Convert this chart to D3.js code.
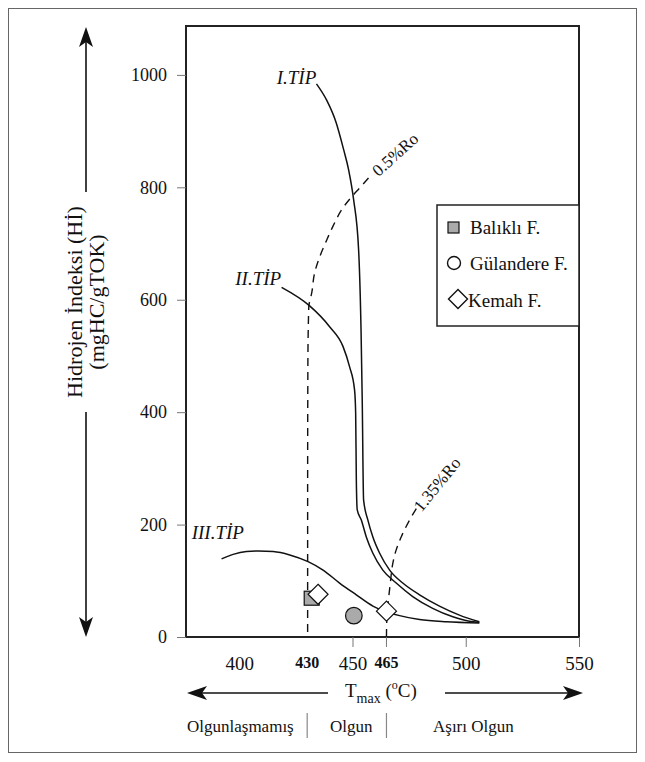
<!DOCTYPE html>
<html>
<head>
<meta charset="utf-8">
<script src="https://cdn.jsdelivr.net/npm/d3@7"></script>
<style>
  body { margin: 0; background: #fff; }
  svg, svg text { font-family: "Liberation Serif", "Times New Roman", Tinos, "DejaVu Serif", serif; }
</style>
</head>
<body>
<svg id="chart" width="645" height="762" font-family="Liberation Serif"></svg>
<script>
// ===== DATA (Tmax in °C, HI in mgHC/gTOK) =====
const tTicks = [400, 450, 500, 550];
const tBoldTicks = [430, 465];
const hiTicks = [0, 200, 400, 600, 800, 1000];

const typeI = [[434.1,984],[438.6,955],[442.8,915],[446.1,867],[448.3,831],[450.5,778],[452.7,689],
  [453.8,541],[454.3,422],[454.9,244],[456.8,208],[459.0,178],[462.0,149],[466.4,119],[472.2,96],
  [479.6,75],[488.4,55],[497.2,39],[506.0,27]];
const typeII = [[418.7,622],[431.1,589],[439.9,552],[445.8,517],[448.7,481],[450.9,440],[451.4,399],
  [451.7,279],[452.1,226],[453.9,208],[456.1,178],[459.0,149],[463.4,119],[469.3,96],[476.6,72],
  [485.4,51],[494.3,36],[501.6,28],[506.0,26]];
const typeIII = [[392.2,139],[397.3,147],[403.2,152],[408.4,153],[415.0,152],[422.3,146],[430.4,134],
  [437.0,119],[444.3,96],[451.7,75],[459.0,55],[464.9,45],[470.8,38],[479.6,31],[491.3,27],[506.0,25]];
const ro05 = [[430.2,9],[430.2,244],[430.3,480],[430.7,587],[432.0,612],[433.3,648],[435.5,676],
  [438.6,706],[441.3,730],[445.7,763],[449.6,783],[453.2,799],[457.6,819]];
const ro135 = [[465.0,0],[465.1,25],[466.7,96],[467.8,131],[469.3,155],[471.5,178],[475.2,208],[479.6,238]];

const balikli = [[432.0,69]];
const gulandere = [[450.6,38]];
const kemah = [[434.8,76],[465.0,46]];

const legendNames = ["Balıklı F.", "Gülandere F.", "Kemah F."];
const maturity = ["Olgunlaşmamış", "Olgun", "Aşırı Olgun"];

// ===== SETUP =====
const FONT = "Liberation Serif";
const svg = d3.select("#chart");
const plot = {left:186, right:579, top:26, bottom:637};
const x = d3.scaleLinear().domain([376.5, 550]).range([plot.left, plot.right]);
const y = d3.scaleLinear().domain([0, 1087]).range([plot.bottom, plot.top]);

// outer border
svg.append("rect").attr("x",8.5).attr("y",8.5).attr("width",628).attr("height",744)
  .attr("fill","none").attr("stroke","#666").attr("stroke-width",1);

// plot frame
svg.append("rect").attr("x",plot.left).attr("y",plot.top)
  .attr("width",plot.right-plot.left).attr("height",plot.bottom-plot.top)
  .attr("fill","#fff").attr("stroke","#222").attr("stroke-width",2);

// ===== AXES =====
const yAxis = svg.append("g").attr("transform",`translate(${plot.left},0)`)
  .call(d3.axisLeft(y).tickValues(hiTicks).tickFormat(d3.format("d")).tickSize(9).tickPadding(10))
  .attr("font-family",FONT);
yAxis.select(".domain").remove();
yAxis.selectAll("line").attr("stroke","#777");
yAxis.selectAll("text").attr("font-size",18).attr("fill","#111");

const xAxis = svg.append("g").attr("transform",`translate(0,${plot.bottom})`)
  .call(d3.axisBottom(x).tickValues(tTicks).tickSize(10).tickPadding(10))
  .attr("font-family",FONT);
xAxis.select(".domain").remove();
xAxis.selectAll("line").attr("stroke","#777").attr("display",d=>d===400?"none":null);
xAxis.selectAll("text").attr("font-size",19).attr("fill","#111");

svg.append("g").selectAll("text").data(tBoldTicks).join("text")
  .attr("x",d=>x(d)).attr("y",plot.bottom+31).attr("text-anchor","middle")
  .attr("font-size",16).attr("font-weight","bold").attr("fill","#111").text(d=>d);

// ===== CURVES =====
const lineX = d3.line().x(d=>x(d[0])).y(d=>y(d[1])).curve(d3.curveMonotoneX);
const lineY = d3.line().x(d=>x(d[0])).y(d=>y(d[1])).curve(d3.curveMonotoneY);
[typeI, typeII, typeIII].forEach(c => {
  svg.append("path").attr("d",lineX(c)).attr("fill","none").attr("stroke","#111").attr("stroke-width",1.5);
});
[ro05, ro135].forEach(c => {
  svg.append("path").attr("d",lineY(c)).attr("fill","none").attr("stroke","#111")
    .attr("stroke-width",1.4).attr("stroke-dasharray","8,6");
});
// 465 tick below axis
svg.append("line").attr("x1",x(465)).attr("x2",x(465)).attr("y1",plot.bottom).attr("y2",plot.bottom+10)
  .attr("stroke","#777");

// curve labels
const lab = (t, hi, txt, anchor, rot, size, italic) => {
  svg.append("text").attr("transform",`translate(${x(t)},${y(hi)}) rotate(${rot})`)
    .attr("text-anchor",anchor).attr("font-size",size).attr("font-style",italic?"italic":"normal")
    .attr("fill","#111").text(txt);
};
lab(434.0, 984, "I.TİP", "end", 0, 19, true);
lab(418.5, 627, "II.TİP", "end", 0, 19, true);
lab(379.0, 174, "III.TİP", "start", 0, 19, true);
lab(461.5, 818, "0.5%Ro", "start", -42, 17, false);
lab(480.5, 221, "1.35%Ro", "start", -51, 17, false);

// ===== MARKERS =====
const mk = svg.append("g").attr("stroke","#111").attr("stroke-width",1.2);
mk.selectAll("rect.b").data(balikli).join("rect").attr("class","b")
  .attr("x",d=>x(d[0])-7.5).attr("y",d=>y(d[1])-7).attr("width",15).attr("height",14).attr("fill","#aaa");
mk.selectAll("circle.g").data(gulandere).join("circle").attr("class","g")
  .attr("cx",d=>x(d[0])).attr("cy",d=>y(d[1])).attr("r",8.3).attr("fill","#aaa");
const diamond = (cx, cy, r) => `M${cx},${cy-r}L${cx+r},${cy}L${cx},${cy+r}L${cx-r},${cy}Z`;
mk.selectAll("path.k").data(kemah).join("path").attr("class","k")
  .attr("d",d=>diamond(x(d[0]),y(d[1]),10)).attr("fill","#fff");

// ===== LEGEND =====
const lg = svg.append("g");
lg.append("rect").attr("x",437).attr("y",205).attr("width",142).attr("height",121)
  .attr("fill","#fff").attr("stroke","#222").attr("stroke-width",1.5);
lg.append("rect").attr("x",448).attr("y",222).attr("width",11).attr("height",11)
  .attr("fill","#aaa").attr("stroke","#111").attr("stroke-width",1.2);
lg.append("circle").attr("cx",454).attr("cy",263).attr("r",6.5)
  .attr("fill","#fff").attr("stroke","#111").attr("stroke-width",1.4);
lg.append("path").attr("d",diamond(458,299,9.5)).attr("fill","#fff").attr("stroke","#111").attr("stroke-width",1.4);
lg.selectAll("text").data(legendNames).join("text")
  .attr("x",(d,i)=>i===2?468:470).attr("y",(d,i)=>[234,270,307][i])
  .attr("font-size",19).attr("fill","#111").text(d=>d);

// ===== ARROWS =====
const head = (tx, ty, ang) => {
  const L = 20, W = 7, N = 5;
  svg.append("path").attr("d",`M0,0L${L},${-W}L${L-N},0L${L},${W}Z`)
    .attr("transform",`translate(${tx},${ty}) rotate(${ang})`).attr("fill","#111");
};
const arrowLine = (x1,y1,x2,y2) => svg.append("line").attr("x1",x1).attr("y1",y1).attr("x2",x2).attr("y2",y2)
  .attr("stroke","#111").attr("stroke-width",1.6);

// vertical (HI)
arrowLine(86, 40, 86, 192); head(86, 27, 90);
arrowLine(86, 412, 86, 624); head(86, 637, -90);
const yl = svg.append("text").attr("transform","translate(82,302) rotate(-90)")
  .attr("text-anchor","middle").attr("font-size",22).attr("fill","#111");
yl.append("tspan").attr("x",0).attr("dy",0).text("Hidrojen İndeksi (Hİ)");
yl.append("tspan").attr("x",0).attr("dy",22).text("(mgHC/gTOK)");

// horizontal (Tmax)
arrowLine(200, 693, 328, 693); head(187, 693, 0);
arrowLine(445, 693, 570, 693); head(583, 693, 180);
const tl = svg.append("text").attr("x",345).attr("y",697).attr("font-size",19).attr("fill","#111");
tl.append("tspan").text("T");
tl.append("tspan").attr("font-size",14).attr("dy",6).text("max");
tl.append("tspan").attr("dy",-6).text(" (");
tl.append("tspan").attr("font-size",12).attr("dy",-8).text("o");
tl.append("tspan").attr("dy",8).text("C)");

// maturity zones
svg.append("g").selectAll("line").data(tBoldTicks).join("line")
  .attr("x1",d=>x(d)).attr("x2",d=>x(d)).attr("y1",713).attr("y2",738)
  .attr("stroke","#888").attr("stroke-width",1.2);
svg.append("g").selectAll("text").data(maturity).join("text")
  .attr("x",(d,i)=>[187,330,433][i]).attr("y",732).attr("font-size",17).attr("fill","#111").text(d=>d);
</script>
</body>
</html>
